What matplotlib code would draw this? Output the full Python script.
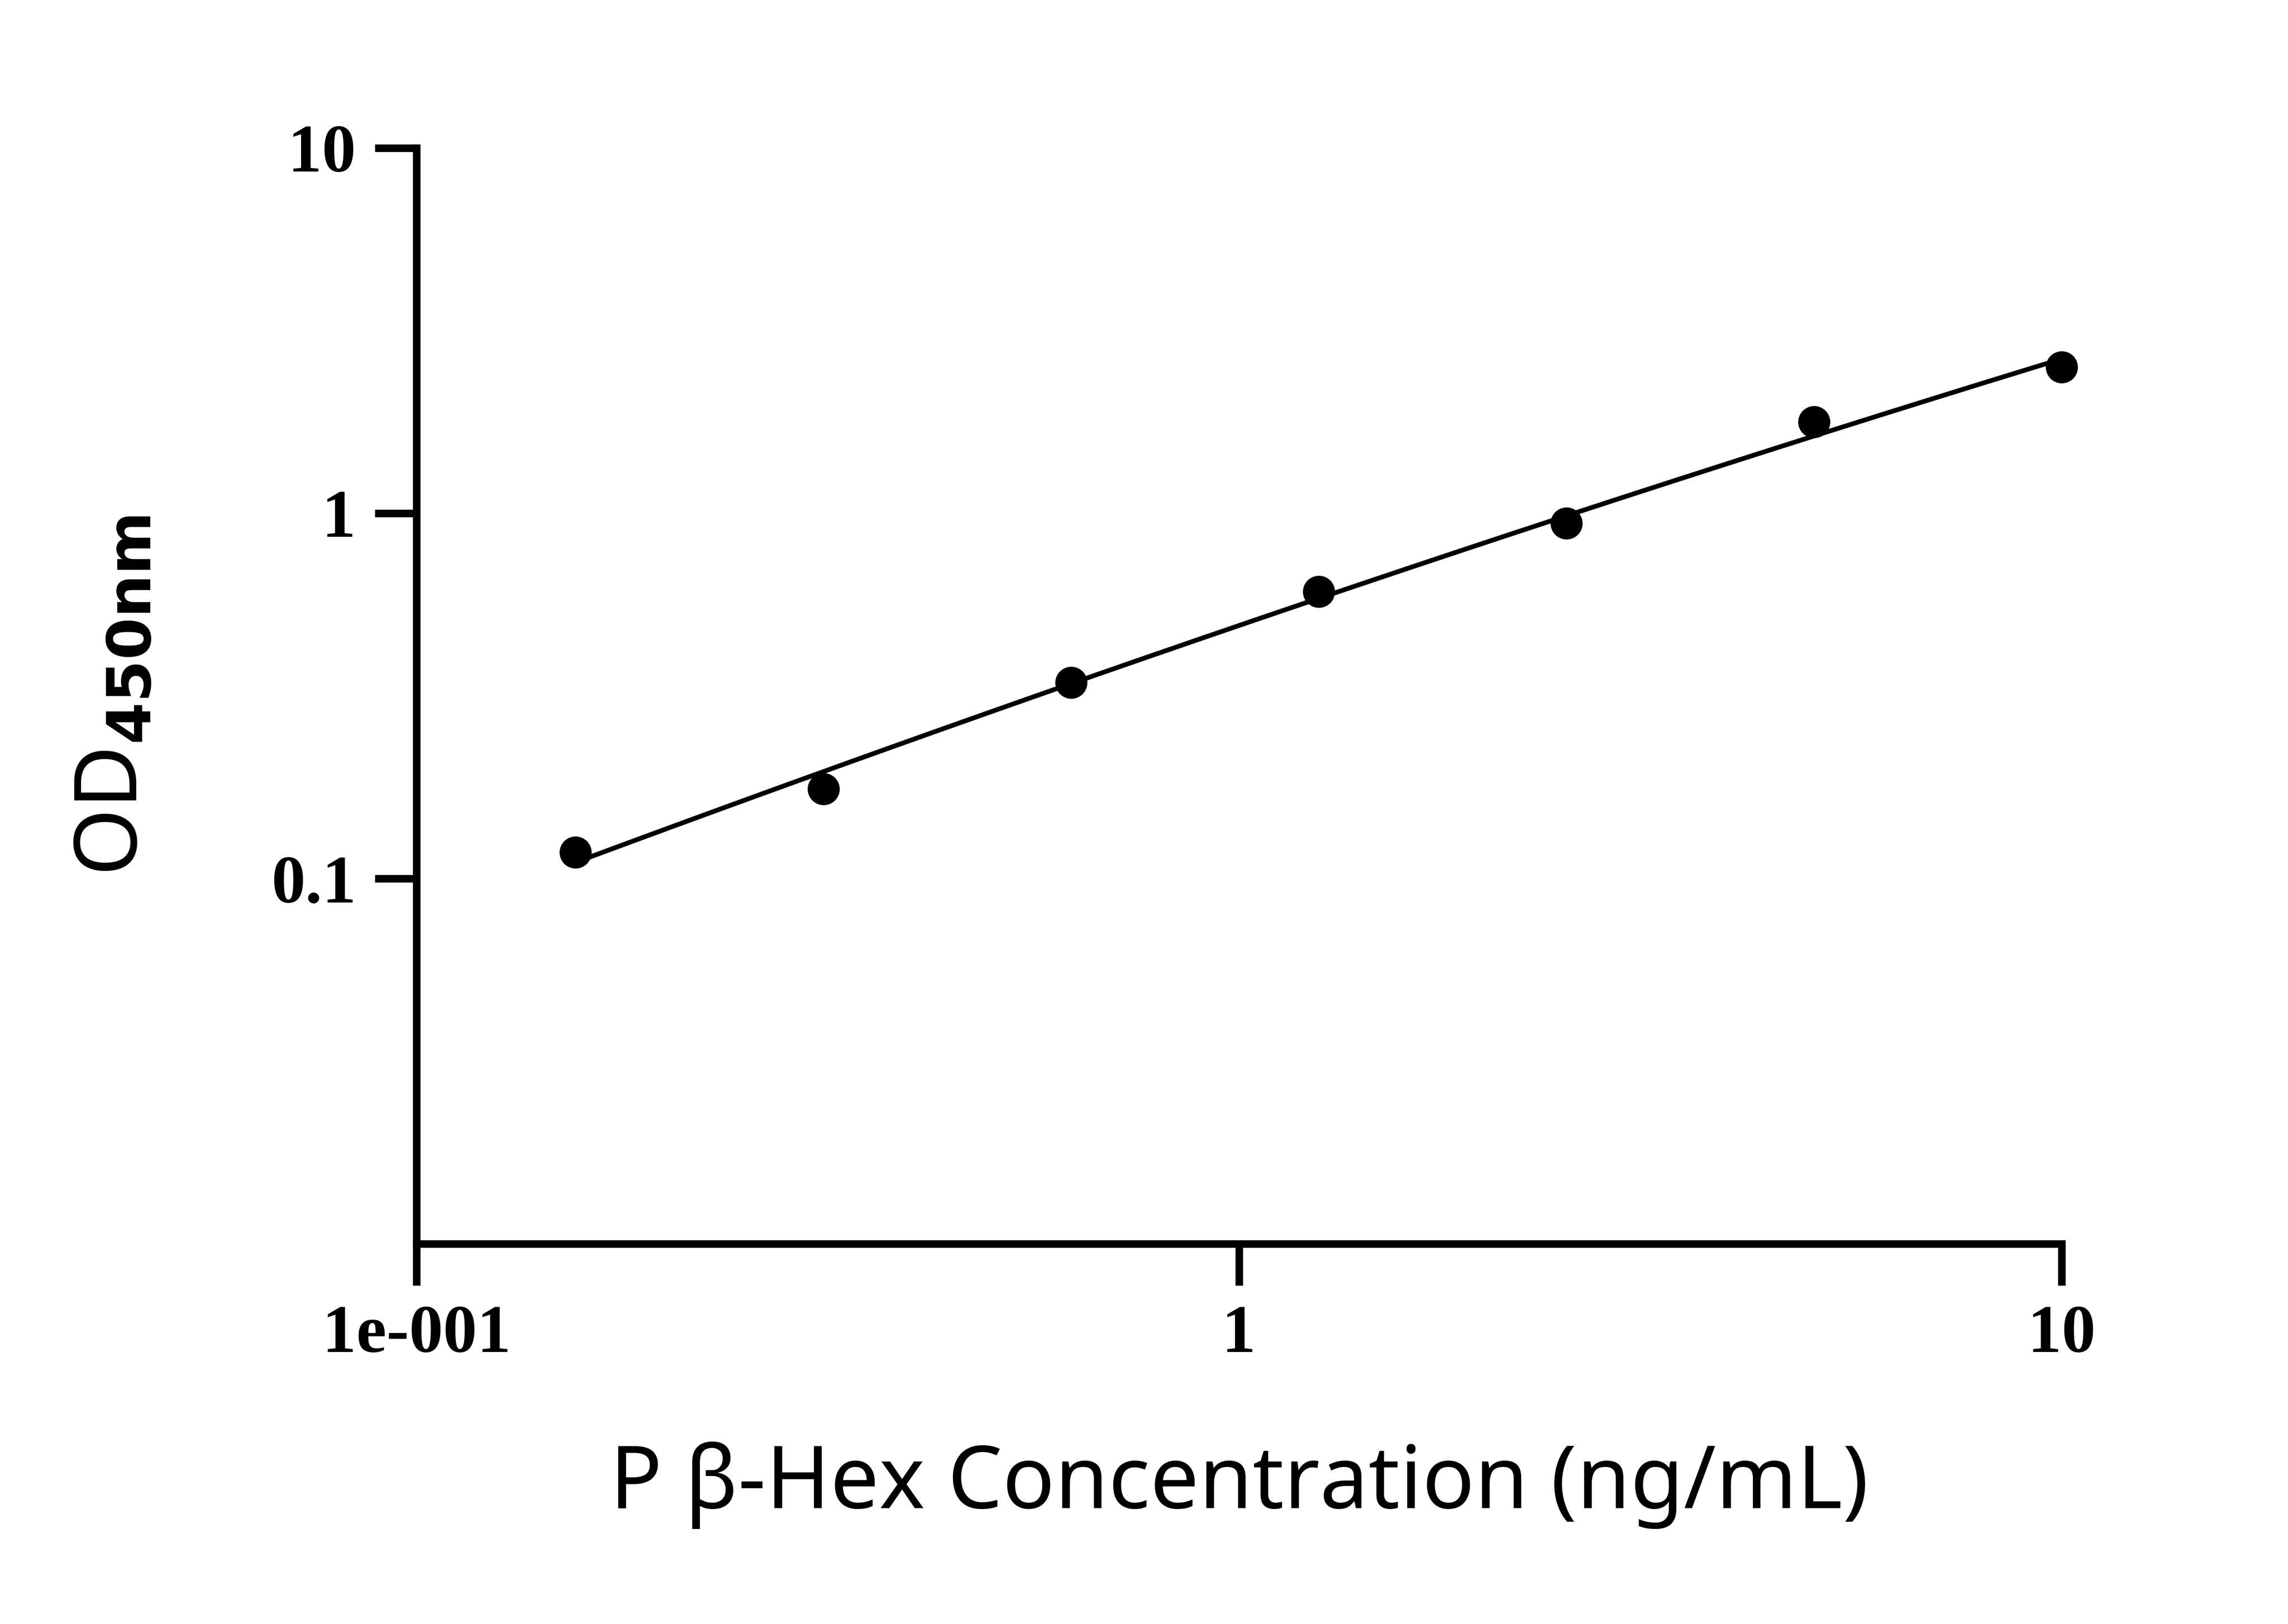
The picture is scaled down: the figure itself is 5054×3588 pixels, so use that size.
import numpy as np
import matplotlib
matplotlib.use("Agg")
import matplotlib.pyplot as plt

conc = [0.156, 0.3125, 0.625, 1.25, 2.5, 5.0, 10.0]
od = [0.118, 0.176, 0.344, 0.611, 0.94, 1.78, 2.51]
xticks = [0.1, 1, 10]
xticklabels = ["1e-001", "1", "10"]
yticks = [0.1, 1, 10]
yticklabels = ["0.1", "1", "10"]

fig = plt.figure(figsize=(5054/300, 3588/300), dpi=300)
ax = fig.add_axes([0.182, 0.234, 0.719, 0.675])
ax.set_xscale("log"); ax.set_yscale("log")
ax.set_xlim(0.1, 10); ax.set_ylim(0.01, 10)

lx = np.log10(conc); ly = np.log10(od)
c = np.polyfit(lx, ly, 2)
xs = np.linspace(lx[0], lx[-1], 200)
ax.plot(10**xs, 10**np.polyval(c, xs), color="black", lw=2.5)
ax.plot(conc, od, "o", color="black", ms=16, clip_on=False)

for s in ["top", "right"]:
    ax.spines[s].set_visible(False)
for s in ["left", "bottom"]:
    ax.spines[s].set_linewidth(4)
ax.minorticks_off()
ax.set_xticks(xticks); ax.set_xticklabels(xticklabels)
ax.set_yticks(yticks); ax.set_yticklabels(yticklabels)
ax.tick_params(direction="out", length=22, width=4, pad=10)
for t in ax.get_xticklabels() + ax.get_yticklabels():
    t.set_fontfamily("Liberation Serif"); t.set_fontweight("bold"); t.set_fontsize(36)
ax.set_xlabel("P β-Hex Concentration (ng/mL)", fontfamily="Noto Sans", fontweight="bold", fontsize=46, labelpad=40)
ax.set_ylabel("OD$_{\\mathbf{450nm}}$", fontfamily="Noto Sans", fontweight="bold", fontsize=46, labelpad=60)
fig.savefig("out.png", dpi=300)
